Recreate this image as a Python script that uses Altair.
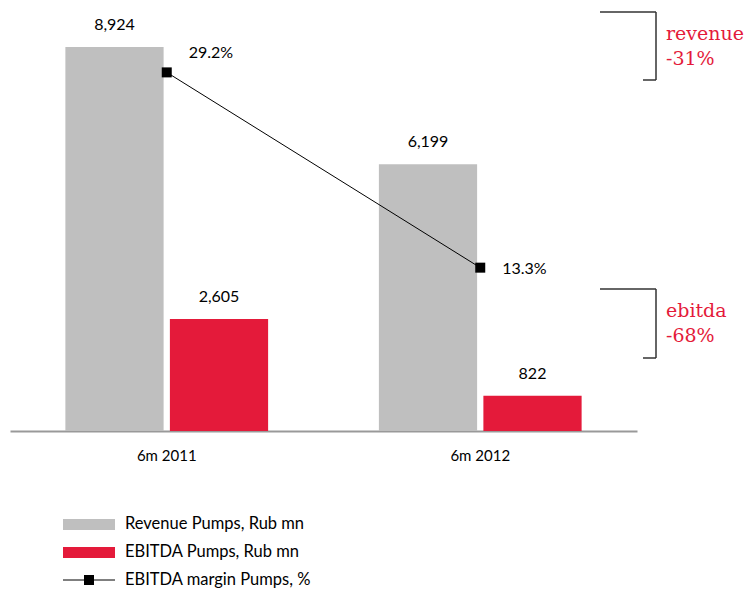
import altair as alt
import pandas as pd

periods = ["6m 2011", "6m 2012"]
series = ["Revenue Pumps, Rub mn", "EBITDA Pumps, Rub mn"]
revenue = [8924, 6199]
ebitda = [2605, 822]
margin = [29.2, 13.3]
margin_name = "EBITDA margin Pumps, %"
annotations = [("revenue", "-31%"), ("ebitda", "-68%")]

GRAY = "#BFBFBF"
RED = "#E41A3A"
FONT = "Lato"
SERIF = "DejaVu Serif"

bars_df = pd.DataFrame({
    "period": periods * 2,
    "series": [series[0]] * 2 + [series[1]] * 2,
    "value": revenue + ebitda,
})
margin_df = pd.DataFrame({"period": periods, "margin": margin,
                          "label": [f"{m:.1f}%" for m in margin]})

x_enc = alt.X("period:N", sort=periods,
              scale=alt.Scale(paddingInner=0, paddingOuter=0),
              axis=alt.Axis(title=None, ticks=False, labelAngle=0, labelFontSize=15,
                            labelFont=FONT, labelColor="#000", labelPadding=17,
                            domainColor="#999", domainWidth=2))
xoff = alt.XOffset("series:N", sort=series,
                   scale=alt.Scale(domain=series, paddingInner=0.06, paddingOuter=0.53))
y_bar = alt.Y("value:Q", scale=alt.Scale(domain=[0, 9784], nice=False, zero=True), axis=None)
y_m = alt.Y("margin:Q", scale=alt.Scale(domain=[0, 34.28], nice=False, zero=True), axis=None)

bars = alt.Chart(bars_df).mark_bar().encode(
    x=x_enc, xOffset=xoff, y=y_bar,
    color=alt.Color("series:N", scale=alt.Scale(domain=series, range=[GRAY, RED]), legend=None),
)
bar_text = alt.Chart(bars_df).mark_text(dy=-22, fontSize=16, font=FONT, color="#000").encode(
    x=x_enc, xOffset=xoff, y=y_bar, text=alt.Text("value:Q", format=","),
)
line = alt.Chart(margin_df).mark_line(color="#000", strokeWidth=1).encode(x=x_enc, y=y_m)
pts = alt.Chart(margin_df).mark_point(shape="square", filled=True, size=100, color="#000", opacity=1).encode(x=x_enc, y=y_m)
m_text1 = alt.Chart(margin_df).transform_filter(alt.datum.period == periods[0]).mark_text(
    align="left", dx=22, dy=-19, fontSize=16, font=FONT, color="#000").encode(x=x_enc, y=y_m, text="label:N")
m_text2 = alt.Chart(margin_df).transform_filter(alt.datum.period == periods[1]).mark_text(
    align="left", dx=22, dy=1, fontSize=16, font=FONT, color="#000").encode(x=x_enc, y=y_m, text="label:N")

one = pd.DataFrame({"k": [0]})

def hrule(x1, x2, y, color="#333", w=1.5):
    return alt.Chart(one).mark_rule(color=color, strokeWidth=w).encode(
        x=alt.value(x1), x2=alt.value(x2), y=alt.value(y))

def vrule(x, y1, y2, color="#333", w=1.5):
    return alt.Chart(one).mark_rule(color=color, strokeWidth=w).encode(
        x=alt.value(x), y=alt.value(y1), y2=alt.value(y2))

def txt(s, x, y, color="#000", size=16.5, font=FONT):
    return alt.Chart(one).mark_text(align="left", baseline="middle", fontSize=size, font=font,
                                    color=color).encode(x=alt.value(x), y=alt.value(y), text=alt.value(s))

ann = []
for (name, pct), top, bot in zip(annotations, [2, 279], [70, 348]):
    ann += [hrule(590, 646, top), vrule(646, top, bot), hrule(633, 646, bot),
            txt(name, 656, top + 22, RED, 19, SERIF), txt(pct, 656, top + 47, RED, 19, SERIF)]

leg = [
    alt.Chart(one).mark_rect(color=GRAY).encode(x=alt.value(53), x2=alt.value(105), y=alt.value(509), y2=alt.value(520)),
    txt(series[0], 115, 514),
    alt.Chart(one).mark_rect(color=RED).encode(x=alt.value(53), x2=alt.value(105), y=alt.value(537), y2=alt.value(548)),
    txt(series[1], 115, 542),
    hrule(53, 105, 570, "#000", 1),
    alt.Chart(one).mark_point(shape="square", filled=True, size=100, color="#000", opacity=1).encode(
        x=alt.value(79), y=alt.value(570)),
    txt(margin_name, 115, 570),
]

chart = alt.layer(bars, bar_text, line, pts, m_text1, m_text2, *ann, *leg).resolve_scale(
    y="independent"
).properties(
    width=627, height=421,
    autosize=alt.AutoSizeParams(type="none"),
    padding={"left": 10, "top": 10, "right": 108, "bottom": 159},
).configure(background="white").configure_view(strokeWidth=0, stroke="transparent")

chart.save("out.html", embed_options={"renderer": "svg", "actions": False})
